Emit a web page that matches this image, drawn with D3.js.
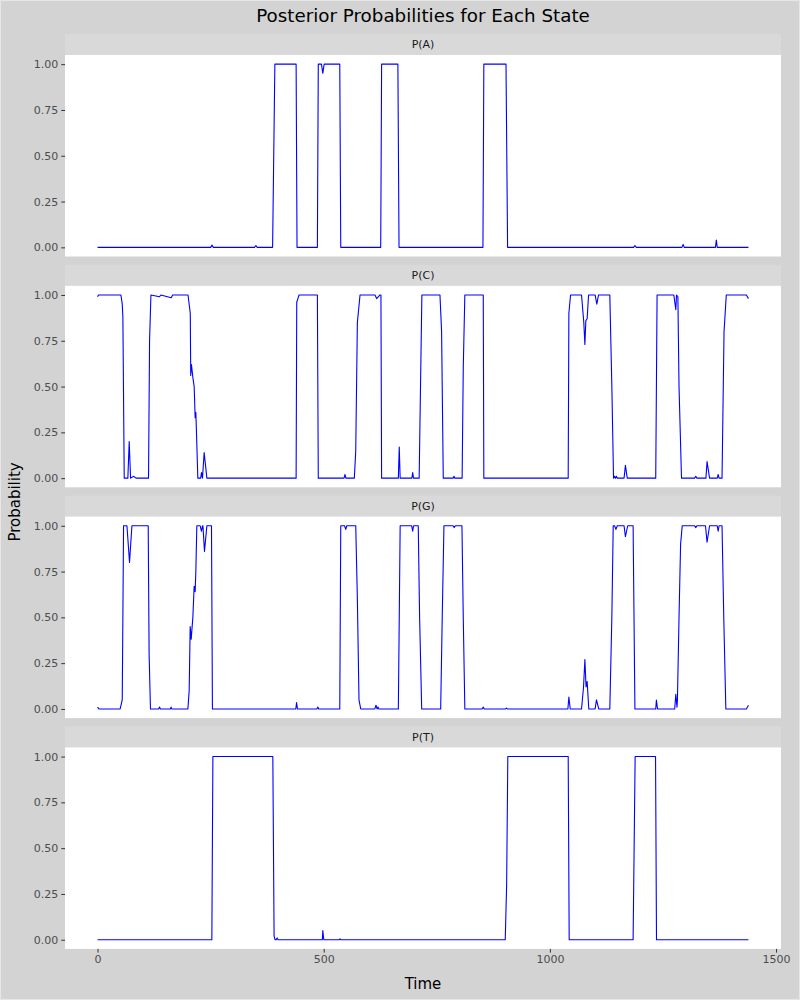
<!DOCTYPE html>
<html>
<head>
<meta charset="utf-8">
<script src="https://cdn.jsdelivr.net/npm/d3@7"></script>
<style>
  html, body { margin: 0; padding: 0; background: #ffffff; }
  svg { display: block; font-family: "DejaVu Sans", sans-serif; }
</style>
</head>
<body>
<svg id="chart" width="800" height="1000"></svg>
<script>
// ---- data (time, probability) ----
const stateLabels = ["P(A)", "P(C)", "P(G)", "P(T)"];

const pA = [[0,0],[250,0],[253,0.012],[256,0],[347,0],[350,0.01],[353,0],[387,0],[392,1],[439,1],[441,0],[486,0],[488,1],[495,1],[498,0.95],[501,1],[535.5,1],[537.7,0],[626,0],[628,1],[664,1],[666.5,0],[852,0],[854,1],[903,1],[906.5,0],[1185,0],[1188,0.01],[1191,0],[1292,0],[1294.6,0.016],[1297,0],[1366,0],[1368,0.04],[1370,0],[1439,0]];

const pC = [[0,0.99],[2,1],[51.7,1],[54.6,0.95],[56,0.88],[59,0],[67,0],[70,0.2],[73,0],[80,0.01],[85,0],[112.7,0],[115,0.75],[118,1],[137,0.99],[140,1],[163,0.985],[166,1],[200,1],[205,0.9],[206,0.56],[207.6,0.62],[210.7,0.55],[213.6,0.5],[215.8,0.33],[217.3,0.36],[218.7,0.25],[221.7,0],[228,0],[229.8,0.03],[232,0],[235.7,0.14],[241.7,0],[439,0],[440.4,0.96],[445.5,1],[486,1],[488,0],[545,0],[547,0.02],[549,0],[567.7,0],[570.8,0.15],[574.4,0.85],[580.3,1],[613.4,1],[617,0.98],[624.5,1],[626.5,1],[628,0],[665,0],[667,0.17],[669,0],[695,0],[696.7,0.03],[698.5,0],[711,0],[714,0.5],[717,1],[757,1],[760.6,0.8],[764.3,0],[786,0],[788,0.01],[790,0],[806,0],[808.5,0.6],[812,1],[852.7,1],[854,0],[1040.5,0],[1042,0.9],[1045.7,1],[1070,1],[1075,0.85],[1077.4,0.73],[1079.5,0.86],[1082.4,0.87],[1085.5,1],[1100,1],[1103.8,0.95],[1107.5,1],[1132.5,1],[1137,0.5],[1140.7,0],[1143,0.01],[1145,0],[1147,0.01],[1149,0],[1164,0],[1167,0.07],[1171,0],[1234,0],[1237,1],[1274,1],[1278.4,0.92],[1280,1],[1283,0.99],[1285.5,0.5],[1291,0],[1320,0],[1322.5,0.01],[1325,0],[1345,0],[1347.5,0.09],[1353,0],[1370,0],[1372,0.02],[1374,0],[1380.6,0],[1385,0.8],[1390,1],[1434.5,1],[1439,0.98]];

const pG = [[0,0.01],[3,0],[50,0],[54.6,0.05],[56,0.5],[57.5,1],[65,1],[70.7,0.8],[76,1],[112,1],[114,0.3],[117,0],[135,0],[137,0.01],[139,0],[161,0],[162.6,0.01],[164,0],[199.7,0],[202.6,0.1],[204.8,0.45],[207,0.38],[210.7,0.5],[213.6,0.67],[215.8,0.64],[217.3,0.75],[219.5,1],[226.9,1],[229.8,0.97],[232,1],[233,1],[236.4,0.86],[241.7,1],[251.9,1],[254,0],[438.3,0],[440,0.035],[442,0],[485,0],[487,0.01],[489,0],[535.5,0],[537.7,1],[546,1],[548.7,0.98],[551,1],[570.8,1],[574.4,0.6],[578,0.05],[581.8,0],[613,0],[615.6,0.02],[618,0],[620,0.01],[622,0],[665,0],[669,1],[694.5,1],[696.7,0.97],[698.5,1],[709,1],[712,0.5],[716.6,0],[758.6,0],[762,0.5],[765.8,1],[786,1],[788.6,0.99],[791,1],[805.6,1],[808.5,0.5],[812,0],[850,0],[852.7,0.01],[855,0],[902,0],[904,0.005],[906,0],[1039.8,0],[1042,0.065],[1045,0],[1070,0],[1074.4,0.12],[1077.4,0.27],[1080,0.12],[1082.4,0.15],[1086,0],[1100,0],[1103,0.05],[1108,0],[1132.5,0],[1137,0.5],[1140,1],[1143,1],[1146,0.98],[1149,1],[1164,1],[1167,0.94],[1172,1],[1184,1],[1188,0],[1234,0],[1235.5,0.048],[1238,0],[1276,0],[1278.4,0.08],[1281,0.01],[1282,0.05],[1285.5,0.5],[1289,0.9],[1292.6,1],[1320,1],[1322.5,0.99],[1325,1],[1344,1],[1347.5,0.91],[1353,1],[1370,1],[1372,0.97],[1374,1],[1380.6,1],[1384.4,0.5],[1389,0],[1434.5,0],[1439,0.02]];

const pT = [[0,0],[252.7,0],[255,1],[387.5,1],[390.3,0.02],[392.5,0],[395,0],[397,0.01],[399,0],[497,0],[498,0.05],[500.2,0],[534,0],[536,0.005],[538,0],[901.3,0],[904.4,0.3],[907,1],[1040.5,1],[1042.7,0],[1184,0],[1188.5,1],[1233.6,1],[1235.7,0],[1439,0]];

const seriesList = [pA, pC, pG, pT];
const yTicks = [0, 0.25, 0.5, 0.75, 1];
const xTicks = [0, 500, 1000, 1500];

// ---- layout ----
const svg = d3.select("#chart");
const W = 800, H = 1000;
const left = 65, right = 781;
const firstTop = 55, panelH = 201.5, stripH = 21, step = 230.8;

svg.append("rect").attr("x", 0.5).attr("y", 0.5).attr("width", W - 1).attr("height", H - 1)
  .attr("fill", "#d3d3d3").attr("stroke", "#e6e6e6").attr("stroke-width", 1);

const tMax = d3.max(seriesList, s => d3.max(s, d => d[0]));
const xPad = tMax * 0.05;
const x = d3.scaleLinear().domain([-xPad, tMax + xPad]).range([left, right]);

svg.append("text")
  .attr("x", (left + right) / 2).attr("y", 22)
  .attr("text-anchor", "middle").attr("font-size", 18.3).attr("fill", "#000")
  .text("Posterior Probabilities for Each State");

seriesList.forEach((data, i) => {
  const top = firstTop + i * step;
  const y = d3.scaleLinear().domain([-0.05, 1.05]).range([top + panelH, top]);

  // strip
  svg.append("rect").attr("x", left).attr("y", top - stripH).attr("width", right - left).attr("height", stripH)
    .attr("fill", "#d9d9d9");
  svg.append("text").attr("x", (left + right) / 2).attr("y", top - stripH / 2)
    .attr("dy", "0.35em").attr("text-anchor", "middle").attr("font-size", 11).attr("fill", "#1a1a1a")
    .text(stateLabels[i]);

  // panel
  svg.append("rect").attr("x", left).attr("y", top).attr("width", right - left).attr("height", panelH)
    .attr("fill", "#ffffff");

  // y axis
  const ya = svg.append("g").attr("transform", `translate(${left},0)`)
    .call(d3.axisLeft(y).tickValues(yTicks).tickFormat(d3.format(".2f")).tickSize(3.7).tickPadding(3));
  ya.select(".domain").remove();
  ya.selectAll(".tick line").attr("stroke", "#333333");
  ya.selectAll(".tick text").attr("fill", "#4d4d4d").attr("font-size", 11)
    .attr("font-family", "DejaVu Sans, sans-serif");

  // line
  const line = d3.line().x(d => x(d[0])).y(d => y(d[1]));
  svg.append("path").datum(data).attr("d", line)
    .attr("fill", "none").attr("stroke", "#0000ff").attr("stroke-width", 1.1)
    .attr("stroke-linejoin", "round");

  if (i === seriesList.length - 1) {
    const xa = svg.append("g").attr("transform", `translate(0,${top + panelH})`)
      .call(d3.axisBottom(x).tickValues(xTicks).tickFormat(d3.format("d")).tickSize(3.7).tickPadding(3));
    xa.select(".domain").remove();
    xa.selectAll(".tick line").attr("stroke", "#333333");
    xa.selectAll(".tick text").attr("fill", "#4d4d4d").attr("font-size", 11)
      .attr("font-family", "DejaVu Sans, sans-serif");
  }
});

// axis titles
svg.append("text").attr("x", (left + right) / 2).attr("y", 989)
  .attr("text-anchor", "middle").attr("font-size", 15).attr("fill", "#000").text("Time");
svg.append("text")
  .attr("transform", `translate(20,${(firstTop + firstTop + 3 * step + panelH) / 2}) rotate(-90)`)
  .attr("text-anchor", "middle").attr("font-size", 15).attr("fill", "#000").text("Probability");
</script>
</body>
</html>
